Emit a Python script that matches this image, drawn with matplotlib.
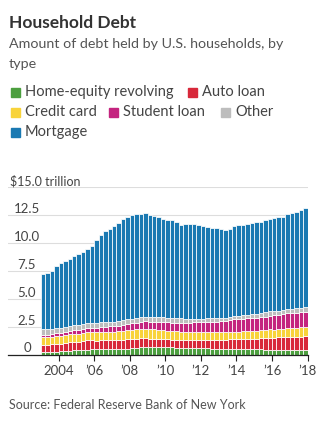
import matplotlib
matplotlib.use("Agg")
import matplotlib.pyplot as plt
import numpy as np

# quarterly, 2003 Q1 .. 2017 Q4, trillions of dollars
home_equity = [.24, .25, .26, .28, .32, .35, .38, .42, .45, .47, .49, .51,
               .51, .50, .50, .50, .50, .51, .55, .58, .61, .66, .68, .70,
               .71, .71, .71, .70, .68, .67, .66, .65, .64, .63, .62, .61,
               .60, .59, .57, .56, .55, .54, .54, .53, .53, .53, .52, .51,
               .51, .50, .49, .49, .49, .48, .47, .46, .45, .45, .44, .44]
auto_loan = [.64, .64, .68, .70, .70, .72, .75, .77, .75, .78, .81, .80,
             .78, .80, .82, .82, .80, .81, .82, .82, .80, .81, .81, .79,
             .76, .75, .74, .74, .71, .71, .71, .71, .71, .72, .73, .73,
             .75, .77, .78, .78, .81, .84, .86, .88, .88, .91, .93, .96,
             .96, 1.00, 1.03, 1.06, 1.07, 1.10, 1.14, 1.16, 1.17, 1.19, 1.21, 1.22]
credit_card = [.69, .69, .69, .70, .70, .70, .71, .72, .71, .72, .73, .74,
               .72, .74, .75, .77, .76, .78, .80, .83, .83, .84, .85, .87,
               .84, .82, .81, .80, .76, .74, .73, .73, .69, .69, .69, .70,
               .68, .68, .67, .68, .67, .67, .67, .68, .66, .67, .68, .70,
               .68, .70, .71, .73, .71, .73, .75, .78, .76, .78, .81, .83]
student_loan = [.24, .24, .25, .25, .26, .29, .32, .35, .36, .37, .38, .39,
                .43, .45, .46, .48, .51, .53, .55, .55, .58, .59, .61, .64,
                .66, .68, .69, .72, .76, .77, .78, .81, .84, .85, .87, .87,
                .90, .91, .96, .97, .99, .99, 1.03, 1.08, 1.11, 1.12, 1.13, 1.16,
                1.19, 1.19, 1.20, 1.23, 1.26, 1.26, 1.28, 1.31, 1.34, 1.34, 1.36, 1.38]
other = [.48, .49, .48, .45, .45, .42, .41, .42, .39, .40, .41, .42,
         .42, .42, .41, .42, .42, .41, .41, .42, .42, .41, .42, .41,
         .41, .41, .40, .41, .39, .38, .38, .38, .34, .33, .33, .33,
         .31, .31, .31, .32, .31, .30, .31, .33, .32, .33, .34, .35,
         .34, .36, .37, .38, .37, .37, .37, .39, .39, .40, .40, .41]
mortgage = [4.96, 5.01, 5.11, 5.57, 5.74, 5.87, 6.00, 6.12, 6.36, 6.46, 6.63, 6.89,
            7.44, 7.79, 8.11, 8.26, 8.51, 8.76, 9.02, 9.15, 9.24, 9.24, 9.26, 9.25,
            9.14, 9.03, 8.95, 8.78, 8.78, 8.75, 8.59, 8.32, 8.48, 8.48, 8.44, 8.34,
            8.26, 8.16, 8.09, 8.01, 7.92, 7.78, 7.87, 8.05, 8.12, 8.04, 8.08, 8.14,
            8.17, 8.10, 8.25, 8.21, 8.32, 8.34, 8.31, 8.45, 8.59, 8.64, 8.70, 8.84]

series_names = ["Home-equity revolving", "Auto loan", "Credit card",
                "Student loan", "Other", "Mortgage"]
series_colors = ["#4c9f3f", "#d8283a", "#f8d33a", "#c4247f", "#bdbdbd", "#1a79b2"]

year_ticks = [2004, 2006, 2008, 2010, 2012, 2014, 2016, 2018]
year_labels = ["2004", "\u201906", "\u201908", "\u201910", "\u201912",
               "\u201914", "\u201916", "\u201918"]
y_ticks = [0, 2.5, 5.0, 7.5, 10.0, 12.5, 15.0]
y_labels = ["0", "2.5", "5.0", "7.5", "10.0", "12.5", "$15.0 trillion"]

plt.rcParams["font.family"] = ["Lato", "DejaVu Sans"]

W, H = 327, 423
fig = plt.figure(figsize=(W / 100, H / 100), dpi=100)

# axes placed in pixel terms
left_px, right_px, zero_px, top_px = 8, 308, 355, 187
ax = fig.add_axes([left_px / W, 1 - zero_px / H,
                   (right_px - left_px) / W, (zero_px - top_px) / H])

x = np.arange(len(mortgage))
bottom = np.zeros(len(x))
for vals, name, col in zip([home_equity, auto_loan, credit_card, student_loan, other, mortgage],
                           series_names, series_colors):
    ax.bar(x, vals, bottom=bottom, width=1.0, color=col,
           edgecolor="white", linewidth=0.55, zorder=3)
    bottom = bottom + np.array(vals)

ax.set_xlim(-7.9, 59.6)
ax.set_ylim(0, 15.0)

# year ticks at year boundaries
tick_pos = [(y - 2003) * 4 - 0.5 for y in year_ticks]
ax.set_xticks(tick_pos)
ax.set_xticklabels(year_labels, fontsize=9.5, color="#444444")
ax.tick_params(axis="x", length=4, width=0.8, color="#222222", pad=3)

ax.set_yticks(y_ticks)
ax.set_yticklabels([])
ax.tick_params(axis="y", length=0)
ax.grid(axis="y", color="#dddddd", linewidth=0.8, zorder=0)
ax.set_axisbelow(True)

for s in ["top", "right", "left"]:
    ax.spines[s].set_visible(False)
ax.spines["bottom"].set_color("#222222")
ax.spines["bottom"].set_linewidth(0.9)
ax.spines["bottom"].set_zorder(5)

# y labels sit just above the gridlines
for v, lab in zip(y_ticks, y_labels):
    if v == 15.0:
        ax.text(10 / W, 1 - 181 / H, lab, transform=fig.transFigure,
                fontsize=9, color="#444444", ha="left", va="center")
    else:
        yp = zero_px - v * (zero_px - top_px) / 15.0 - 6
        if v == 0:
            yp = 348
        fig.text(27 / W, 1 - yp / H, lab, fontsize=9.5, color="#444444",
                 ha="center", va="center")

# title block
fig.text(9 / W, 1 - 23 / H, "Household Debt", fontsize=12.5, fontweight="bold",
         color="#333333", ha="left", va="center")
fig.text(9 / W, 1 - 44 / H, "Amount of debt held by U.S. households, by",
         fontsize=10.3, color="#555555", ha="left", va="center")
fig.text(9 / W, 1 - 64 / H, "type", fontsize=10.3, color="#555555",
         ha="left", va="center")

# legend rows, laid out by hand
legend_rows = [[(0, 11), (1, 188)], [(2, 11), (3, 109), (4, 221)], [(5, 11)]]
row_y = [92, 112, 132]
for row, yy in zip(legend_rows, row_y):
    for idx, xx in row:
        fig.patches.append(plt.Rectangle((xx / W, 1 - (yy + 5) / H), 9 / W, 9 / H,
                                         transform=fig.transFigure,
                                         color=series_colors[idx]))
        fig.text((xx + 14) / W, 1 - yy / H, series_names[idx], fontsize=10.5,
                 color="#444444", ha="left", va="center")

fig.text(9 / W, 1 - 405 / H, "Source: Federal Reserve Bank of New York",
         fontsize=9, color="#555555", ha="left", va="center")

fig.savefig("out.png", dpi=100)
